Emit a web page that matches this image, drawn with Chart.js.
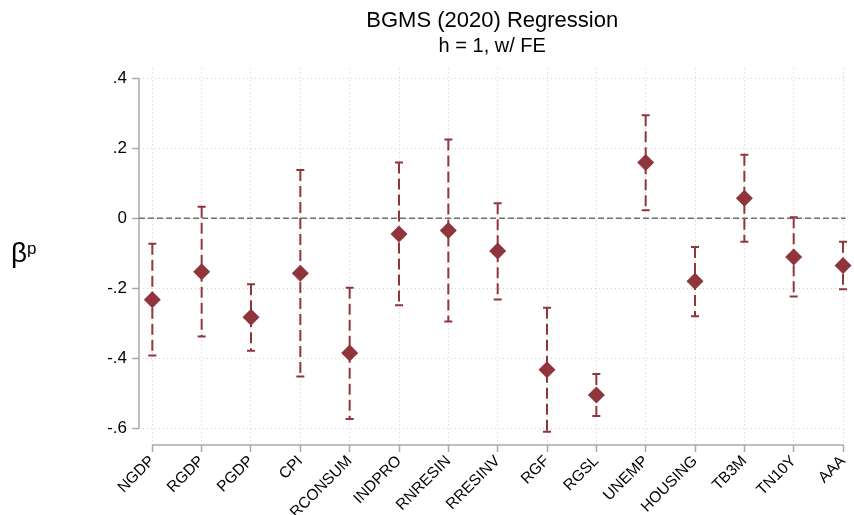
<!DOCTYPE html>
<html>
<head>
<meta charset="utf-8">
<script src="https://cdn.jsdelivr.net/npm/chart.js@4"></script>
<style>
  html, body { margin: 0; padding: 0; background: #fff; }
  #wrap { width: 854px; height: 515px; }
</style>
</head>
<body>
<div id="wrap"><canvas id="coefChart"></canvas></div>
<script>
// coefficient estimates with 95% bands, one per series
var variables = ['NGDP', 'RGDP', 'PGDP', 'CPI', 'RCONSUM', 'INDPRO', 'RNRESIN', 'RRESINV',
                 'RGF', 'RGSL', 'UNEMP', 'HOUSING', 'TB3M', 'TN10Y', 'AAA'];
var beta   = [-0.233, -0.153, -0.283, -0.157, -0.385, -0.045, -0.035, -0.094,
              -0.433, -0.505,  0.159, -0.180,  0.057, -0.111, -0.135];
var ciLow  = [-0.392, -0.338, -0.379, -0.452, -0.574, -0.249, -0.295, -0.232,
              -0.610, -0.565,  0.023, -0.280, -0.067, -0.224, -0.203];
var ciHigh = [-0.073,  0.033, -0.189,  0.138, -0.199,  0.159,  0.225,  0.043,
              -0.256, -0.445,  0.294, -0.082,  0.181,  0.003, -0.067];
var yTicks = [-0.6, -0.4, -0.2, 0, 0.2, 0.4];

var markColor = '#90353b';
var fontFam = '"Liberation Sans", Arial, Helvetica, sans-serif';

function fmtTick(v) {
  if (Math.abs(v) < 1e-9) return '0';
  return (v < 0 ? '-' : '') + Math.abs(v).toFixed(1).replace(/^0/, '');
}

// axis lines, zero reference line and dashed confidence bars
var errorBars = {
  id: 'errorBars',
  beforeDatasetsDraw: function(chart) {
    var ctx = chart.ctx, xs = chart.scales.x, ys = chart.scales.y, area = chart.chartArea;
    ctx.save();

    ctx.strokeStyle = '#a9a9a9';
    ctx.lineWidth = 1.5;
    ctx.beginPath();
    ctx.moveTo(area.left, ys.getPixelForValue(yTicks[yTicks.length - 1]));
    ctx.lineTo(area.left, ys.getPixelForValue(yTicks[0]));
    ctx.moveTo(xs.getPixelForValue(0), area.bottom);
    ctx.lineTo(xs.getPixelForValue(variables.length - 1), area.bottom);
    ctx.stroke();

    var y0 = ys.getPixelForValue(0);
    ctx.strokeStyle = '#6e6e6e';
    ctx.lineWidth = 1.4;
    ctx.setLineDash([6, 3]);
    ctx.beginPath();
    ctx.moveTo(area.left, y0);
    ctx.lineTo(area.right, y0);
    ctx.stroke();

    ctx.strokeStyle = markColor;
    ctx.lineWidth = 2;
    for (var i = 0; i < variables.length; i++) {
      var x = xs.getPixelForValue(i);
      var yl = ys.getPixelForValue(ciLow[i]);
      var yh = ys.getPixelForValue(ciHigh[i]);
      ctx.setLineDash([11, 5]);
      ctx.beginPath();
      ctx.moveTo(x, yh);
      ctx.lineTo(x, yl);
      ctx.stroke();
      ctx.setLineDash([]);
      ctx.beginPath();
      ctx.moveTo(x - 4, yh); ctx.lineTo(x + 4, yh);
      ctx.moveTo(x - 4, yl); ctx.lineTo(x + 4, yl);
      ctx.stroke();
    }
    ctx.restore();
  },
  afterDraw: function(chart) {
    var ctx = chart.ctx;
    ctx.save();
    ctx.fillStyle = '#000';
    ctx.textBaseline = 'alphabetic';
    ctx.textAlign = 'left';
    ctx.font = '28px ' + fontFam;
    ctx.fillText('β', 11, 262);
    ctx.font = '17px ' + fontFam;
    ctx.fillText('p', 27, 254);
    ctx.restore();
  }
};

var ctx = document.getElementById('coefChart').getContext('2d');
var coefChart = new Chart(ctx, {
  type: 'scatter',
  data: {
    datasets: [{
      label: 'beta',
      data: beta.map(function(b, i) { return { x: i, y: b }; }),
      pointStyle: 'rectRot',
      pointRadius: 8.5,
      pointHoverRadius: 8.5,
      backgroundColor: markColor,
      borderColor: markColor,
      borderWidth: 0,
      clip: false
    }]
  },
  options: {
    responsive: true,
    maintainAspectRatio: false,
    animation: false,
    layout: { padding: { left: 0, right: 5.5, top: 0, bottom: 0 } },
    plugins: {
      legend: { display: false },
      tooltip: { enabled: false },
      title: {
        display: true,
        text: 'BGMS (2020) Regression',
        fullSize: false,
        color: '#000',
        font: { family: fontFam, size: 22, weight: 'normal' },
        padding: { top: 8, bottom: 0 }
      },
      subtitle: {
        display: true,
        text: 'h = 1, w/ FE',
        fullSize: false,
        color: '#000',
        font: { family: fontFam, size: 20, weight: 'normal' },
        padding: { top: 0, bottom: 10 }
      }
    },
    scales: {
      x: {
        type: 'linear',
        min: -0.27,
        max: 14.05,
        afterBuildTicks: function(scale) {
          scale.ticks = variables.map(function(v, i) { return { value: i }; });
        },
        afterFit: function(scale) {
          scale.height = 70;
          scale.paddingLeft = 0;
          scale.paddingRight = 0;
        },
        ticks: {
          autoSkip: false,
          minRotation: 45,
          maxRotation: 45,
          padding: 0,
          color: '#000',
          font: { family: fontFam, size: 15.5 },
          callback: function(v) { return variables[v]; }
        },
        grid: {
          color: '#cfcfcf',
          lineWidth: 1,
          tickColor: '#a9a9a9',
          tickWidth: 1.5,
          tickLength: 7,
          tickBorderDash: []
        },
        border: { display: false, dash: [1, 3] }
      },
      y: {
        type: 'linear',
        min: -0.648,
        max: 0.428,
        afterBuildTicks: function(scale) {
          scale.ticks = yTicks.map(function(v) { return { value: v }; });
        },
        afterFit: function(scale) { scale.width = 139; },
        ticks: {
          padding: 5,
          color: '#000',
          font: { family: fontFam, size: 17 },
          callback: function(v) { return fmtTick(v); }
        },
        grid: {
          color: '#cfcfcf',
          lineWidth: 1,
          tickColor: '#a9a9a9',
          tickWidth: 1.5,
          tickLength: 7,
          tickBorderDash: []
        },
        border: { display: false, dash: [1, 3] }
      }
    }
  },
  plugins: [errorBars]
});
</script>
</body>
</html>
